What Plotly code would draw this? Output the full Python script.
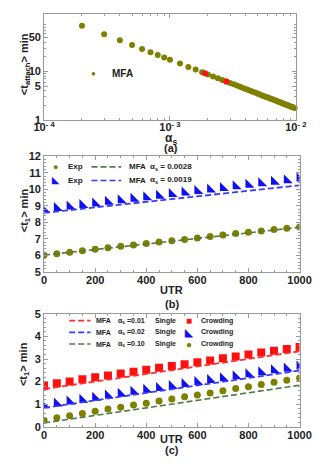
import plotly.graph_objects as go

# ---- panel (a): MFA attachment time vs alpha_s ----
alpha_s = [0.0001, 0.0002, 0.0003, 0.0004, 0.0005, 0.0006, 0.0007, 0.0008, 0.0009,
           0.0010, 0.0012, 0.0014, 0.0016, 0.0018, 0.0020, 0.0022, 0.0024, 0.0026, 0.0028,
           0.0030, 0.0032, 0.0034, 0.0036, 0.0038, 0.0040, 0.0042, 0.0044, 0.0046, 0.0048,
           0.0050, 0.0052, 0.0054, 0.0056, 0.0058, 0.0060, 0.0062, 0.0064, 0.0066, 0.0068,
           0.0070, 0.0072, 0.0074, 0.0076, 0.0078, 0.0080, 0.0082, 0.0084, 0.0086, 0.0088,
           0.0090, 0.0092, 0.0094, 0.0096, 0.0098, 0.0100]
t_attach = [174, 87, 58, 43.5, 34.8, 29, 24.9, 21.8, 19.3,
            17.4, 14.5, 12.4, 10.9, 9.67, 8.7, 7.91, 7.25, 6.69, 6.21,
            5.8, 5.44, 5.12, 4.83, 4.58, 4.35, 4.14, 3.95, 3.78, 3.63,
            3.48, 3.35, 3.22, 3.11, 3.0, 2.9, 2.81, 2.72, 2.64, 2.56,
            2.49, 2.42, 2.35, 2.29, 2.23, 2.18, 2.12, 2.07, 2.02, 1.98,
            1.93, 1.89, 1.85, 1.81, 1.78, 1.74]
alpha_red = [0.0019, 0.0028]
t_attach_red = [9.2, 6.2]

# ---- panel (b) ----
utr = [0, 50, 100, 150, 200, 250, 300, 350, 400, 450, 500,
       550, 600, 650, 700, 750, 800, 850, 900, 950, 1000]
exp_b_olive = [6.02, 6.1, 6.19, 6.28, 6.38, 6.46, 6.55, 6.63, 6.72, 6.81, 6.89,
               6.97, 7.05, 7.14, 7.23, 7.32, 7.4, 7.48, 7.57, 7.64, 7.72]
exp_b_blue = [8.77, 8.86, 8.95, 9.05, 9.14, 9.24, 9.33, 9.42, 9.52, 9.61, 9.71,
              9.8, 9.9, 9.99, 10.08, 10.18, 10.27, 10.36, 10.46, 10.55, 10.65]
utr_mfa = [0, 500, 1000]
mfa_b_green = [6.02, 6.87, 7.7]
mfa_b_blue = [8.57, 9.4, 10.24]

# ---- panel (c) ----
crowd_red = [1.81, 1.93, 2.01, 2.1, 2.19, 2.27, 2.36, 2.44, 2.53, 2.61, 2.69,
             2.77, 2.86, 2.94, 3.03, 3.11, 3.2, 3.29, 3.37, 3.44, 3.53]
crowd_blue = [0.95, 1.03, 1.12, 1.2, 1.29, 1.38, 1.46, 1.55, 1.64, 1.72, 1.81,
              1.9, 1.98, 2.07, 2.15, 2.24, 2.33, 2.41, 2.5, 2.58, 2.67]
crowd_olive = [0.29, 0.4, 0.49, 0.59, 0.69, 0.79, 0.87, 0.96, 1.04, 1.14, 1.23,
               1.33, 1.41, 1.5, 1.6, 1.69, 1.77, 1.87, 1.97, 2.06, 2.16]
single_red = [1.67, 2.5, 3.34]
single_blue = [0.84, 1.66, 2.49]
single_green = [0.17, 1.0, 1.84]

OLIVE = '#808000'
RED = '#ff1010'
BLUE = '#1010f0'
RED_D = '#ff3030'
BLUE_D = '#3a3aff'
GREEN_D = '#4d7a45'
FRAME = '#9a9a9a'
FONT = 'Liberation Sans'
DASH = '6px,3px'

# the page body keeps its 8px margin, so size the figure to fill exactly the window
OFF = 8
W, H = 332 - OFF, 470 - 2 * OFF


def px(x):
    return (x - OFF) / W


def py(y):
    return 1 - (y - OFF) / H


fig = go.Figure()

# (a)
fig.add_trace(go.Scatter(x=alpha_s, y=t_attach, mode='markers', xaxis='x', yaxis='y',
                         marker=dict(color=OLIVE, size=6), cliponaxis=False, showlegend=False))
fig.add_trace(go.Scatter(x=alpha_red, y=t_attach_red, mode='markers', xaxis='x', yaxis='y',
                         marker=dict(color=RED, size=6), showlegend=False))

# (b)
fig.add_trace(go.Scatter(x=utr, y=exp_b_olive, mode='markers', xaxis='x2', yaxis='y2',
                         marker=dict(color=OLIVE, size=7), showlegend=False))
fig.add_trace(go.Scatter(x=utr_mfa, y=mfa_b_green, mode='lines', xaxis='x2', yaxis='y2',
                         line=dict(color=GREEN_D, width=1.6, dash=DASH), showlegend=False))
fig.add_trace(go.Scatter(x=utr, y=exp_b_blue, mode='markers', xaxis='x2', yaxis='y2',
                         marker=dict(color=BLUE, size=10, symbol='triangle-sw'), showlegend=False))
fig.add_trace(go.Scatter(x=utr_mfa, y=mfa_b_blue, mode='lines', xaxis='x2', yaxis='y2',
                         line=dict(color=BLUE_D, width=1.8, dash=DASH), showlegend=False))

# (c)
fig.add_trace(go.Scatter(x=utr, y=crowd_red, mode='markers', xaxis='x3', yaxis='y3',
                         marker=dict(color=RED, size=8, symbol='square'), showlegend=False))
fig.add_trace(go.Scatter(x=utr_mfa, y=single_red, mode='lines', xaxis='x3', yaxis='y3',
                         line=dict(color=RED_D, width=1.8, dash=DASH), showlegend=False))
fig.add_trace(go.Scatter(x=utr, y=crowd_blue, mode='markers', xaxis='x3', yaxis='y3',
                         marker=dict(color=BLUE, size=10, symbol='triangle-sw'), showlegend=False))
fig.add_trace(go.Scatter(x=utr_mfa, y=single_blue, mode='lines', xaxis='x3', yaxis='y3',
                         line=dict(color=BLUE_D, width=1.8, dash=DASH), showlegend=False))
fig.add_trace(go.Scatter(x=utr, y=crowd_olive, mode='markers', xaxis='x3', yaxis='y3',
                         marker=dict(color=OLIVE, size=7), showlegend=False))
fig.add_trace(go.Scatter(x=utr_mfa, y=single_green, mode='lines', xaxis='x3', yaxis='y3',
                         line=dict(color=GREEN_D, width=1.6, dash=DASH), showlegend=False))

tickfont = dict(family=FONT, size=11, color='#222', weight='bold')
common = dict(showline=True, linecolor=FRAME, linewidth=1, mirror='ticks', ticks='inside',
              tickcolor=FRAME, ticklen=4, showgrid=False, zeroline=False, tickfont=tickfont)

minor_log_x = [k * 10 ** e for e in (-4, -3) for k in range(2, 10)]
minor_log_y = [2, 3, 4, 6, 7, 8, 9, 20, 30, 40, 60, 70, 80, 90]

fig.update_layout(
    width=W, height=H, margin=dict(l=0, r=0, t=0, b=0),
    paper_bgcolor='white', plot_bgcolor='white',
    xaxis=dict(type='log', domain=[px(35), px(306)], anchor='y', range=[-4, -2],
               tickvals=[1e-4, 1e-3, 1e-2],
               ticktext=['10<sup>- 4</sup>', '10<sup>- 3</sup>', '10<sup>- 2</sup>'],
               minor=dict(tickvals=minor_log_x, ticklen=2, tickcolor=FRAME, ticks='inside'),
               ticklabelstandoff=-3, **common),
    yaxis=dict(type='log', domain=[py(117), py(8)], anchor='x', range=[0, 2.18],
               tickvals=[1, 5, 10, 50], ticktext=['1', '5', '10', '50'],
               minor=dict(tickvals=minor_log_y, ticklen=2, tickcolor=FRAME, ticks='inside'),
               **common),
    xaxis2=dict(domain=[px(35), px(310)], anchor='y2', range=[0, 1000], dtick=200,
                minor=dict(dtick=50, ticklen=2, tickcolor=FRAME, ticks='inside'),
                ticklabelstandoff=-2, **common),
    yaxis2=dict(domain=[py(273), py(154)], anchor='x2', range=[5, 12], dtick=1,
                minor=dict(dtick=0.2, ticklen=2, tickcolor=FRAME, ticks='inside'), **common),
    xaxis3=dict(domain=[px(35), px(310)], anchor='y3', range=[0, 1000], dtick=200,
                minor=dict(dtick=50, ticklen=2, tickcolor=FRAME, ticks='inside'),
                ticklabelstandoff=-2, **common),
    yaxis3=dict(domain=[py(432), py(316)], anchor='x3', range=[0, 5], dtick=1,
                minor=dict(dtick=0.2, ticklen=2, tickcolor=FRAME, ticks='inside'), **common),
)

ann = []


def text(x, y, s, size=11, color='#222', xanchor='center', angle=0):
    ann.append(dict(x=px(x), y=py(y), xref='paper', yref='paper', text=s, showarrow=False,
                    xanchor=xanchor, yanchor='middle', textangle=angle,
                    font=dict(family=FONT, size=size, color=color, weight='bold')))


# axis titles and panel labels
text(172, 136, '\u03b1<sub>s</sub>', size=12)
text(172, 146, '(a)', size=11)
text(172, 292, 'UTR', size=11)
text(173, 306, '(b)', size=11)
text(172, 445, 'UTR', size=11)
text(173, 456, '(c)', size=11)
text(14, 60, '<t<sub>attach</sub>> min', size=11, angle=-90)
text(14, 210, '<t<sub>1</sub>> min', size=11, angle=-90)
text(14, 368, '<t<sub>1</sub>> min', size=11, angle=-90)

# legend (a)
text(88, 69, '\u25cf', size=8, color=OLIVE)
text(106, 69, 'MFA', size=10, xanchor='left')

# legend (b)
for y, sym, col, lcol, a in [(165, '\u25cf', OLIVE, GREEN_D, '0.0028'),
                             (179, '\u25e3', BLUE, BLUE_D, '0.0019')]:
    text(47, y, sym, size=9, color=col)
    text(59, y, 'Exp', size=8, xanchor='left')
    text(124, y, 'MFA', size=8, xanchor='left')
    text(147, y, '\u03b1<sub>s</sub> = ' + a, size=8, xanchor='left')
    fig.add_shape(type='line', xref='paper', yref='paper', x0=px(86), x1=px(118),
                  y0=py(y), y1=py(y), line=dict(color=lcol, width=1.6, dash=DASH))

# legend (c)
for y, sym, col, lcol, a in [(323, '\u25a0', RED, RED_D, '0.01'),
                             (335, '\u25e3', BLUE, BLUE_D, '0.02'),
                             (347, '\u25cf', OLIVE, GREEN_D, '0.10')]:
    fig.add_shape(type='line', xref='paper', yref='paper', x0=px(62), x1=px(85),
                  y0=py(y), y1=py(y), line=dict(color=lcol, width=1.6, dash=DASH))
    text(89, y, 'MFA', size=7, xanchor='left')
    text(112, y, '\u03b1<sub>s</sub> =' + a, size=7, xanchor='left')
    text(152, y, 'Single', size=7, xanchor='left')
    text(191, y, sym, size=10, color=col)
    text(202, y, 'Crowding', size=7, xanchor='left')

fig.update_layout(annotations=ann)

fig.write_html("out.html")
